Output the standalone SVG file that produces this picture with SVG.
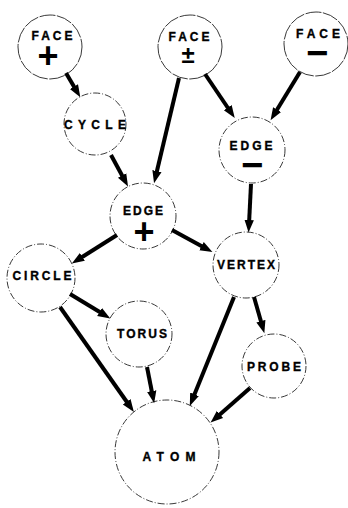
<svg xmlns="http://www.w3.org/2000/svg" width="348" height="508" viewBox="0 0 348 508">
<style>
.n{fill:#fff;stroke:#222;stroke-width:0.9;stroke-dasharray:7 2 1 2}
.s{stroke-dasharray:16 1.5}
.t{font-family:"Liberation Sans",Arial,sans-serif;font-weight:bold;font-size:12px;fill:#000;stroke:#000;stroke-width:0.35;text-anchor:middle}
.sym{font-family:"Liberation Sans",Arial,sans-serif;font-weight:bold;fill:#000;text-anchor:middle}
.e{stroke:#000;stroke-width:4;fill:none;marker-end:url(#ah)}
</style>
<defs>
<marker id="ah" markerUnits="userSpaceOnUse" markerWidth="14" markerHeight="12" refX="4" refY="5" orient="auto" viewBox="0 0 14 10">
<path d="M0,0.3 L12.5,5 L0,9.7 Z" fill="#000"/>
</marker>
</defs>
<rect width="348" height="508" fill="#fff"/>
<g id="face-plus"><circle class="n s" cx="50" cy="47" r="32"/><text class="t" x="52" y="40" textLength="41" lengthAdjust="spacing">FACE</text><text class="sym" x="48" y="68" font-size="36">+</text></g>
<g id="face-pm"><circle class="n s" cx="190" cy="47" r="32"/><text class="t" x="189" y="41" textLength="41" lengthAdjust="spacing">FACE</text><text class="sym" x="188" y="63" font-size="24">±</text></g>
<g id="face-minus"><circle class="n s" cx="316" cy="44" r="32"/><text class="t" x="318" y="38" textLength="44" lengthAdjust="spacing">FACE</text><text class="sym" x="317" y="66" font-size="38">−</text></g>
<g id="cycle"><circle class="n" cx="95" cy="124" r="31"/><text class="t" x="95" y="129" textLength="62" lengthAdjust="spacing">CYCLE</text></g>
<g id="edge-plus"><circle class="n" cx="143" cy="216" r="33"/><text class="t" x="143" y="215" textLength="40" lengthAdjust="spacing">EDGE</text><text class="sym" x="144" y="244" font-size="36">+</text></g>
<g id="edge-minus"><circle class="n" cx="252" cy="150" r="33"/><text class="t" x="251" y="150" textLength="43" lengthAdjust="spacing">EDGE</text><text class="sym" x="252" y="178" font-size="38">−</text></g>
<g id="circle"><circle class="n" cx="41" cy="278" r="34"/><text class="t" x="42" y="280" textLength="59" lengthAdjust="spacing">CIRCLE</text></g>
<g id="vertex"><circle class="n" cx="246" cy="265" r="33"/><text class="t" x="246" y="269" textLength="58" lengthAdjust="spacing">VERTEX</text></g>
<g id="torus"><circle class="n" cx="139" cy="334" r="33"/><text class="t" x="142" y="338" textLength="50" lengthAdjust="spacing">TORUS</text></g>
<g id="probe"><circle class="n" cx="274" cy="366" r="32"/><text class="t" x="274" y="371" textLength="54" lengthAdjust="spacing">PROBE</text></g>
<g id="atom"><circle class="n" cx="167" cy="452" r="52"/><text class="t" x="169" y="461" font-size="13.5" textLength="53" lengthAdjust="spacing">ATOM</text></g>
<g id="connectors">
<path class="e" d="M66,73 L76,90"/>
<path class="e" d="M179,78 L156,175"/>
<path class="e" d="M205,74 L230,111"/>
<path class="e" d="M300,72 L275,113"/>
<path class="e" d="M111,155 L124,179"/>
<path class="e" d="M251,184 L249,224"/>
<path class="e" d="M117,235 L79,259"/>
<path class="e" d="M172,230 L205,248"/>
<path class="e" d="M70,294 L103,314"/>
<path class="e" d="M60,307 L129,405"/>
<path class="e" d="M147,367 L152.5,395"/>
<path class="e" d="M234,297 L193,398"/>
<path class="e" d="M254,297 L262,325"/>
<path class="e" d="M250,388 L217,417"/>
</g>
</svg>
